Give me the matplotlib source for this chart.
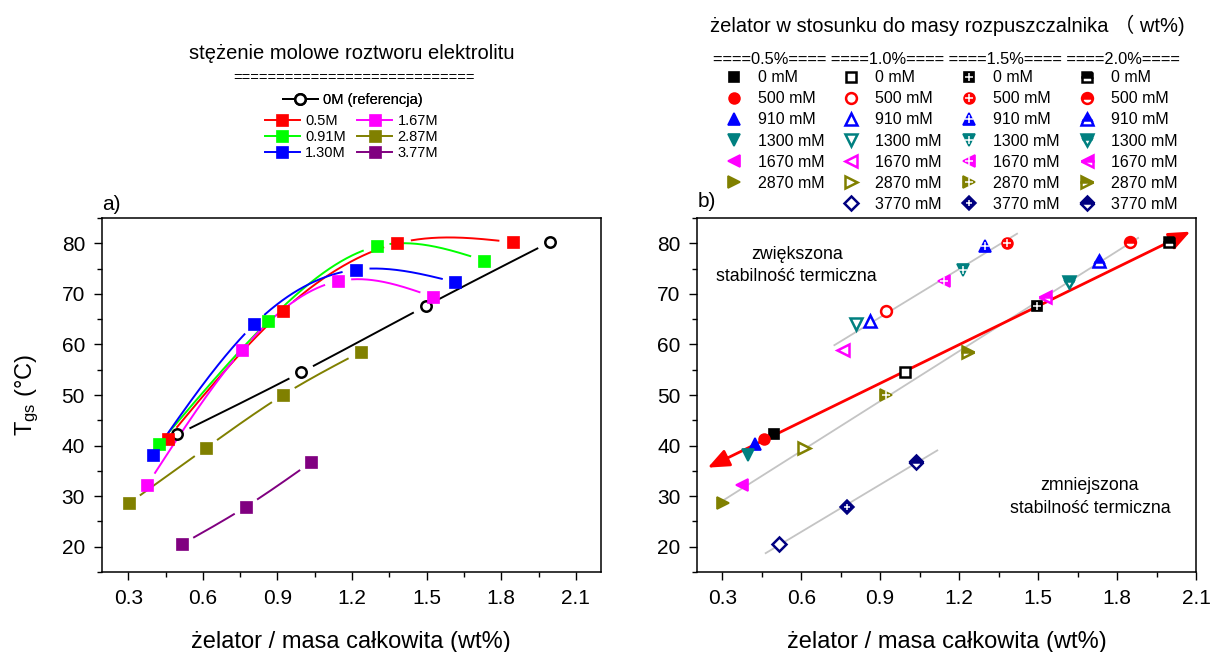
import numpy as np
import matplotlib.pyplot as plt
from matplotlib.lines import Line2D

plt.rcParams['font.family'] = ['Liberation Sans', 'Noto Sans CJK SC', 'DejaVu Sans']
plt.rcParams['mathtext.default'] = 'regular'

# gelator content relative to solvent mass (one value per column of the right legend)
wt_levels = ['0.5%', '1.0%', '1.5%', '2.0%']
conc_mM = [0, 500, 910, 1300, 1670, 2870, 3770]
conc_labels = ['0M (referencja)', '0.5M', '0.91M', '1.30M', '1.67M', '2.87M', '3.77M']

# gelator / total mass (wt%) and gel-sol temperature Tgs (C) for each electrolyte concentration
x_0M = [0.497, 0.996, 1.497, 1.998]
t_0M = [42.2, 54.5, 67.6, 80.3]
x_500 = [0.458, 0.921, 1.382, 1.848]
t_500 = [41.4, 66.6, 80.0, 80.2]
x_910 = [0.425, 0.863, 1.299, 1.731]
t_910 = [40.4, 64.6, 79.4, 76.6]
x_1300 = [0.398, 0.807, 1.216, 1.616]
t_1300 = [38.1, 64.0, 74.8, 72.3]
x_1670 = [0.376, 0.758, 1.142, 1.526]
t_1670 = [32.2, 58.9, 72.5, 69.4]
x_2870 = [0.303, 0.612, 0.923, 1.234]
t_2870 = [28.6, 39.5, 50.0, 58.5]
x_3770 = [np.nan, 0.515, 0.773, 1.035]
t_3770 = [np.nan, 20.5, 27.9, 36.7]

xs_all = [x_0M, x_500, x_910, x_1300, x_1670, x_2870, x_3770]
ts_all = [t_0M, t_500, t_910, t_1300, t_1670, t_2870, t_3770]

# groups of (concentration index, wt index) used for the grey trend lines in panel b
group_up = [(1, 1), (2, 1), (3, 1), (4, 1), (1, 2), (2, 2), (3, 2), (4, 2)]
group_mid = [(4, 0), (5, 0), (5, 1), (5, 2), (5, 3), (1, 3), (2, 3), (3, 3), (4, 3)]
group_low = [(6, 1), (6, 2), (6, 3)]
trend_groups = [group_up, group_mid, group_low]
trend_spans = [(0.726, 1.42), (0.285, 1.88), (0.465, 1.117)]
ref_span = (0.245, 2.078)

colors_a = ['black', '#FF0000', '#00FF00', '#0000FF', '#FF00FF', '#808000', '#800080']
colors_b = ['black', '#FF0000', '#0000FF', '#008080', '#FF00FF', '#808000', '#000080']
markers_b = ['s', 'o', '^', 'v', '<', '>', 'D']
marker_sizes_b = [7.6, 7.8, 8.6, 8.6, 8.6, 8.6, 6.8]


def natural_spline(x, y, num=400):
    x = np.asarray(x, float)
    y = np.asarray(y, float)
    n = len(x)
    h = np.diff(x)
    m = np.zeros(n)
    if n > 2:
        A = np.zeros((n - 2, n - 2))
        r = np.zeros(n - 2)
        for i in range(1, n - 1):
            A[i - 1, i - 1] = 2 * (h[i - 1] + h[i])
            if i > 1:
                A[i - 1, i - 2] = h[i - 1]
            if i < n - 2:
                A[i - 1, i] = h[i]
            r[i - 1] = 6 * ((y[i + 1] - y[i]) / h[i] - (y[i] - y[i - 1]) / h[i - 1])
        m[1:-1] = np.linalg.solve(A, r)
    xs = np.linspace(x[0], x[-1], num)
    k = np.clip(np.searchsorted(x, xs) - 1, 0, n - 2)
    t0 = x[k + 1] - xs
    t1 = xs - x[k]
    hk = h[k]
    ys = ((m[k] * t0 ** 3 + m[k + 1] * t1 ** 3) / (6 * hk)
          + (y[k] / hk - m[k] * hk / 6) * t0 + (y[k + 1] / hk - m[k + 1] * hk / 6) * t1)
    return xs, ys


def gap_near_symbols(ax, xs, ys, px, py, gap=14):
    # break the connecting curve around each symbol (in pixels)
    pts = ax.transData.transform(np.column_stack([xs, ys]))
    sym = ax.transData.transform(np.column_stack([px, py]))
    d = np.hypot(pts[:, None, 0] - sym[None, :, 0], pts[:, None, 1] - sym[None, :, 1]).min(axis=1)
    ys = ys.copy()
    ys[d < gap] = np.nan
    return ys


def style_axes(ax, xlim, ylim):
    ax.set_xlim(*xlim)
    ax.set_ylim(*ylim)
    ax.set_xticks(np.arange(0.3, 2.11, 0.3))
    ax.set_xticks(np.arange(0.45, 2.2, 0.3), minor=True)
    ax.set_yticks(np.arange(20, 81, 10))
    ax.set_yticks(np.arange(15, 86, 5), minor=True)
    ax.set_xticklabels(['%.1f' % v for v in np.arange(0.3, 2.11, 0.3)])
    ax.tick_params(which='both', direction='out', top=False, right=False, width=1.0,
                   labelsize=15, pad=6.5)
    ax.tick_params(which='major', length=5.5)
    ax.tick_params(which='minor', length=3.5)
    for s in ax.spines.values():
        s.set_linewidth(1.1)
    ax.set_xlabel('żelator / masa całkowita (wt%)', fontsize=17, labelpad=17)


fig = plt.figure(figsize=(12.12, 6.52), dpi=100)
ax1 = fig.add_axes([0.0839, 0.1227, 0.4117, 0.5429])
ax2 = fig.add_axes([0.5753, 0.1227, 0.4115, 0.5429])
style_axes(ax1, (0.193, 2.2), (15, 85))
style_axes(ax2, (0.205, 2.1), (18.3, 85))
ax1.set_ylabel('T$_{gs}$ (°C)', fontsize=17, labelpad=15)

# panel a: spline-connected series per electrolyte concentration
proxies = []
for i, (xv, tv) in enumerate(zip(xs_all, ts_all)):
    xv = np.asarray(xv)
    tv = np.asarray(tv)
    ok = ~np.isnan(xv)
    xv, tv = xv[ok], tv[ok]
    cx, cy = natural_spline(xv, tv)
    cy = gap_near_symbols(ax1, cx, cy, xv, tv)
    ax1.plot(cx, cy, color=colors_a[i], lw=1.4, zorder=2)
    if i == 0:
        mk = dict(marker='o', ms=7.5, mfc='white', mec='black', mew=1.8)
    else:
        mk = dict(marker='s', ms=8.3, mfc=colors_a[i], mec=colors_a[i], mew=0.5)
    ax1.plot(xv, tv, ls='none', zorder=3, **mk)
    proxies.append(Line2D([], [], color=colors_a[i], lw=1.4, **mk))

fig.text(0.2904, 0.9187, 'stężenie molowe roztworu elektrolitu', fontsize=14.5,
         ha='center', va='center')
fig.text(0.2921, 0.8804, '=' * 28, fontsize=10.5, ha='center', va='center')
leg_ref = fig.legend(handles=proxies[:1], labels=conc_labels[:1], loc='center',
                     bbox_to_anchor=(0.2908, 0.8466), frameon=False, fontsize=10.5,
                     handlelength=2.4, handletextpad=0.35, borderpad=0, markerscale=1.0)
fig.add_artist(leg_ref)
fig.legend(handles=proxies[1:], labels=conc_labels[1:], loc='center', ncol=2,
           bbox_to_anchor=(0.2900, 0.7899), frameon=False, fontsize=10.5,
           handlelength=2.4, handletextpad=0.35, columnspacing=0.8, labelspacing=0.12,
           borderpad=0, markerscale=1.0)

# panel b: the same points grouped by gelator content
for grp, span in zip(trend_groups, trend_spans):
    gx = np.array([xs_all[c][w] for c, w in grp])
    gy = np.array([ts_all[c][w] for c, w in grp])
    k, b = np.polyfit(gx, gy, 1)
    lx = np.array(span)
    ax2.plot(lx, k * lx + b, color='#C4C4C4', lw=1.3, zorder=1)

k0, b0 = np.polyfit(x_0M, t_0M, 1)
ax2.annotate('', xy=(ref_span[1], k0 * ref_span[1] + b0),
             xytext=(ref_span[0], k0 * ref_span[0] + b0),
             arrowprops=dict(arrowstyle='<|-|>,head_length=0.65,head_width=0.27',
                             color='#FF0000', lw=2.0, mutation_scale=20,
                             shrinkA=0, shrinkB=0), zorder=2)

legend_cols = []
for w in range(len(wt_levels)):
    col = []
    for c in range(len(conc_mM)):
        xv, tv = xs_all[c][w], ts_all[c][w]
        col_c = colors_b[c]
        m = markers_b[c]
        ms = marker_sizes_b[c]
        label = '%d mM' % conc_mM[c]
        if np.isnan(xv):
            col.append((Line2D([], [], ls='none'), ''))
            continue
        if w == 0:
            h, = ax2.plot([xv], [tv], ls='none', marker=m, ms=ms, mfc=col_c, mec=col_c,
                          mew=1.2, zorder=3)
        elif w == 1:
            h, = ax2.plot([xv], [tv], ls='none', marker=m, ms=ms, mfc='white', mec=col_c,
                          mew=1.8, zorder=3)
        elif w == 2:
            h0, = ax2.plot([xv], [tv], ls='none', marker=m, ms=ms, mfc=col_c, mec=col_c,
                           mew=1.2, zorder=3)
            h1, = ax2.plot([xv], [tv], ls='none', marker='+', ms=ms * 0.7, mec='white',
                           mew=1.1, zorder=4)
            h = (h0, h1)
        else:
            h, = ax2.plot([xv], [tv], ls='none', marker=m, ms=ms, mfc=col_c, mec=col_c,
                          mfcalt='white', fillstyle='top', mew=1.8, zorder=3)
        col.append((h, label))
    legend_cols.extend(col)

ax2.text(0.583, 75.6, 'zwiększona\nstabilność termiczna', fontsize=12.8, ha='center',
         va='center', linespacing=1.45)
ax2.text(1.697, 29.9, 'zmniejszona\nstabilność termiczna', fontsize=12.8, ha='center',
         va='center', linespacing=1.45)

fig.text(0.7818, 0.9617, 'żelator w stosunku do masy rozpuszczalnika （ wt%)', fontsize=14.5,
         ha='center', va='center')
fig.text(0.5883, 0.9095, ' '.join('====%s====' % lv for lv in wt_levels), fontsize=11.8,
         ha='left', va='center')
fig.legend(handles=[h for h, _ in legend_cols], labels=[l for _, l in legend_cols],
           loc='center', ncol=4, bbox_to_anchor=(0.7851, 0.7837), frameon=False,
           fontsize=11.5, handlelength=1.0, handletextpad=1.0, columnspacing=1.2,
           labelspacing=0.38, borderpad=0)

fig.text(0.0842, 0.678, 'a)', fontsize=15, ha='left', va='baseline')
fig.text(0.5759, 0.683, 'b)', fontsize=15, ha='left', va='baseline')

fig.savefig('out.png', dpi=100, facecolor='white')
